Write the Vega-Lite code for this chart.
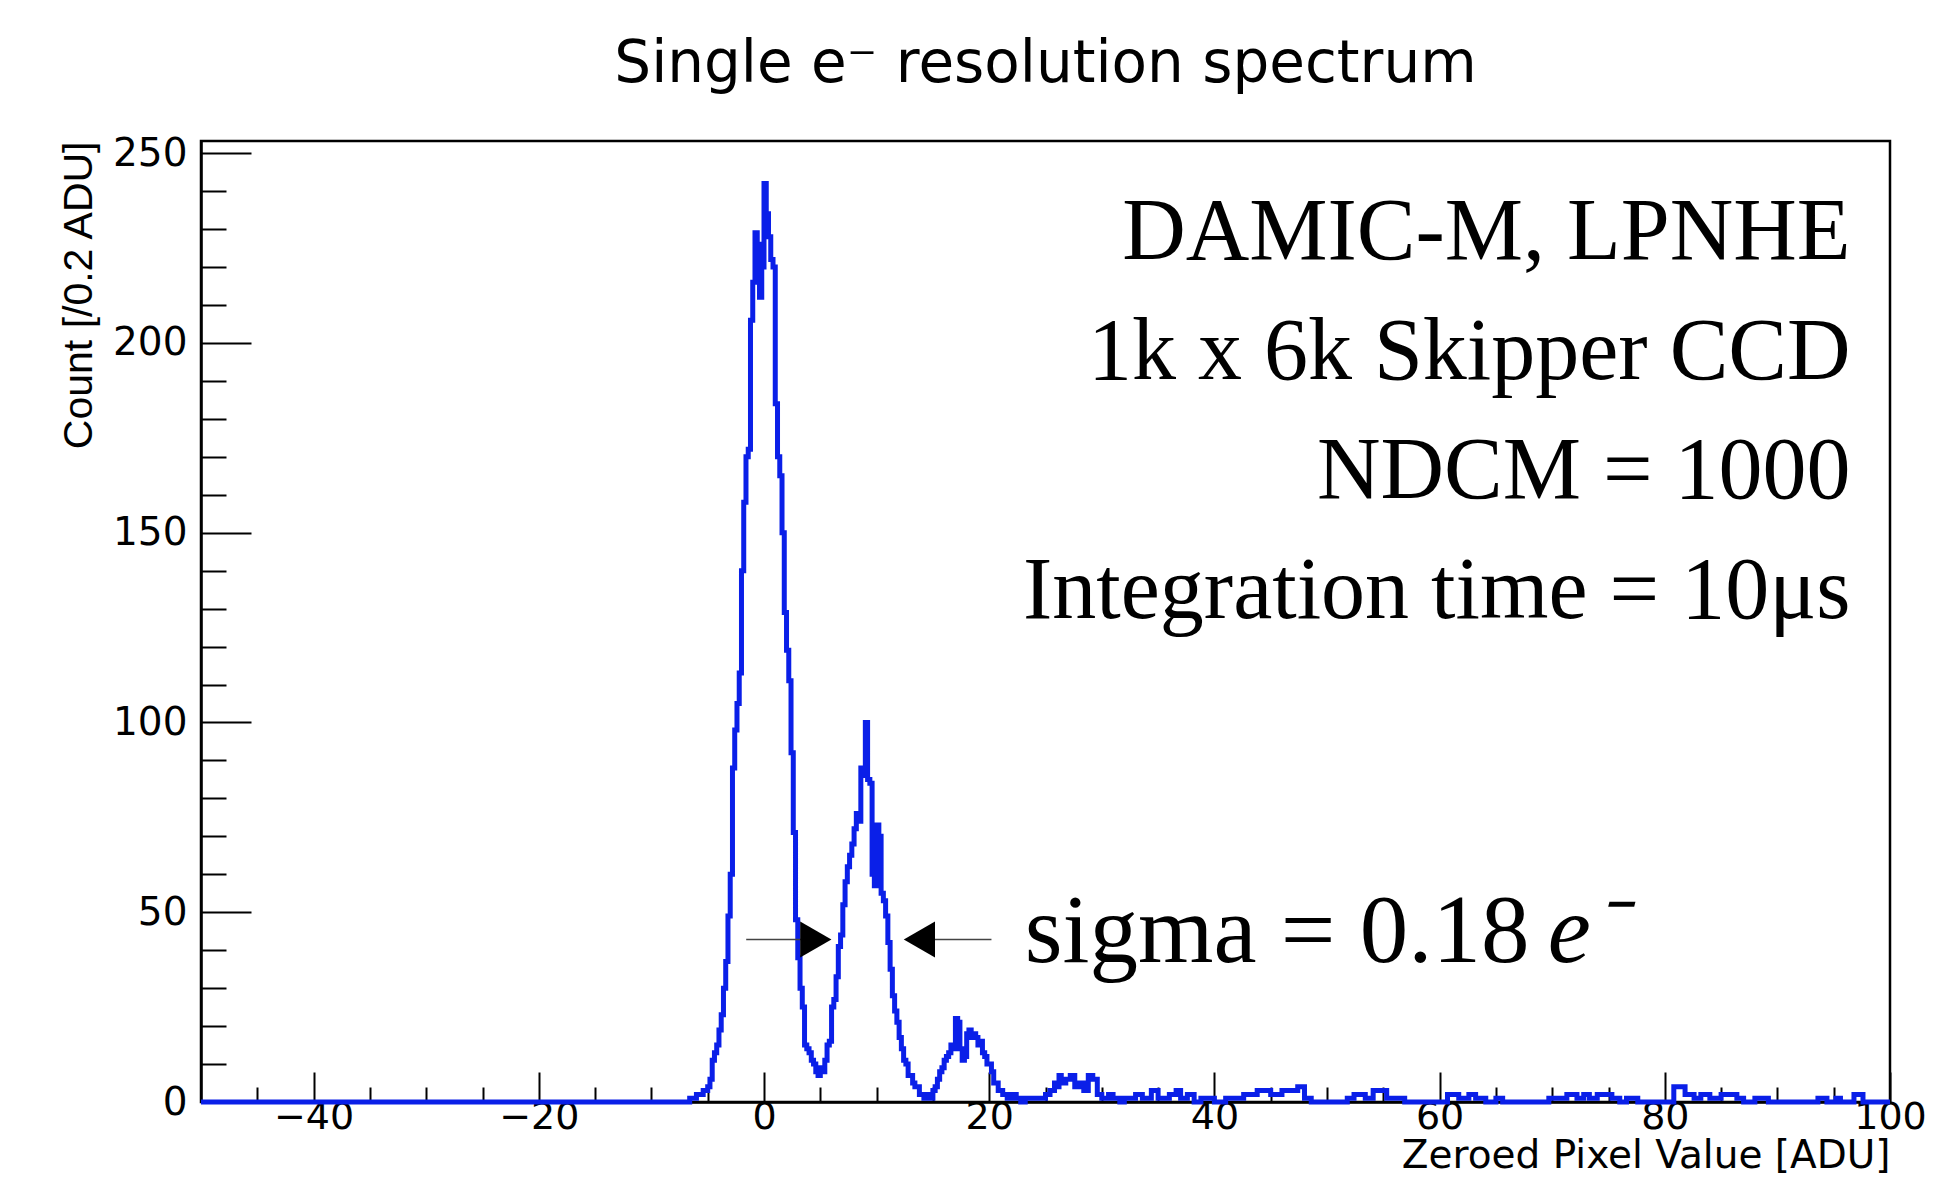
{
  "$schema": "https://vega.github.io/schema/vega-lite/v6.json",
  "width": 1689,
  "height": 961,
  "autosize": {"type": "none"},
  "padding": {"left": 201, "top": 141, "right": 69, "bottom": 86},
  "background": "white",
  "title": {"text": "Single e⁻ resolution spectrum", "font": "DejaVu Sans", "fontSize": 58, "fontWeight": "normal", "color": "#000", "anchor": "middle", "baseline": "alphabetic", "offset": -6},
  "datasets": {
    "hist": [
      {"x": -50, "count": 0}, {"x": -6.6, "count": 1}, {"x": -6.0, "count": 2}, {"x": -5.4, "count": 3}, {"x": -5.0, "count": 4},
      {"x": -4.8, "count": 6}, {"x": -4.6, "count": 11}, {"x": -4.4, "count": 13}, {"x": -4.2, "count": 15}, {"x": -4.0, "count": 19},
      {"x": -3.8, "count": 23}, {"x": -3.6, "count": 30}, {"x": -3.4, "count": 37}, {"x": -3.2, "count": 49}, {"x": -3.0, "count": 60},
      {"x": -2.8, "count": 88}, {"x": -2.6, "count": 98}, {"x": -2.4, "count": 105}, {"x": -2.2, "count": 113}, {"x": -2.0, "count": 140},
      {"x": -1.8, "count": 158}, {"x": -1.6, "count": 170}, {"x": -1.4, "count": 172}, {"x": -1.2, "count": 206}, {"x": -1.0, "count": 216},
      {"x": -0.8, "count": 229}, {"x": -0.6, "count": 226}, {"x": -0.4, "count": 212}, {"x": -0.2, "count": 220}, {"x": 0.0, "count": 242},
      {"x": 0.2, "count": 234}, {"x": 0.4, "count": 228}, {"x": 0.6, "count": 222}, {"x": 0.8, "count": 220}, {"x": 1.0, "count": 184},
      {"x": 1.2, "count": 170}, {"x": 1.4, "count": 165}, {"x": 1.6, "count": 150}, {"x": 1.8, "count": 129}, {"x": 2.0, "count": 119},
      {"x": 2.2, "count": 111}, {"x": 2.4, "count": 92}, {"x": 2.6, "count": 71}, {"x": 2.8, "count": 48}, {"x": 3.0, "count": 38},
      {"x": 3.2, "count": 30}, {"x": 3.4, "count": 25}, {"x": 3.6, "count": 15}, {"x": 3.8, "count": 14}, {"x": 4.0, "count": 13},
      {"x": 4.2, "count": 11}, {"x": 4.4, "count": 10}, {"x": 4.6, "count": 8}, {"x": 4.8, "count": 7}, {"x": 5.0, "count": 9},
      {"x": 5.2, "count": 8}, {"x": 5.4, "count": 11}, {"x": 5.6, "count": 15}, {"x": 5.8, "count": 16}, {"x": 6.0, "count": 25},
      {"x": 6.2, "count": 27}, {"x": 6.4, "count": 33}, {"x": 6.6, "count": 41}, {"x": 6.8, "count": 44}, {"x": 7.0, "count": 52},
      {"x": 7.2, "count": 58}, {"x": 7.4, "count": 62}, {"x": 7.6, "count": 65}, {"x": 7.8, "count": 68}, {"x": 8.0, "count": 72},
      {"x": 8.2, "count": 76}, {"x": 8.4, "count": 74}, {"x": 8.6, "count": 88}, {"x": 8.8, "count": 86}, {"x": 9.0, "count": 100},
      {"x": 9.2, "count": 85}, {"x": 9.4, "count": 84}, {"x": 9.6, "count": 60}, {"x": 9.8, "count": 57}, {"x": 10.0, "count": 73},
      {"x": 10.2, "count": 70}, {"x": 10.4, "count": 55}, {"x": 10.6, "count": 53}, {"x": 10.8, "count": 49}, {"x": 11.0, "count": 42},
      {"x": 11.2, "count": 35}, {"x": 11.4, "count": 28}, {"x": 11.6, "count": 24}, {"x": 11.8, "count": 21}, {"x": 12.0, "count": 17},
      {"x": 12.2, "count": 14}, {"x": 12.4, "count": 11}, {"x": 12.6, "count": 10}, {"x": 12.8, "count": 7}, {"x": 13.2, "count": 5},
      {"x": 13.4, "count": 4}, {"x": 13.8, "count": 2}, {"x": 14.2, "count": 1}, {"x": 14.6, "count": 2}, {"x": 14.8, "count": 1},
      {"x": 15.0, "count": 3}, {"x": 15.2, "count": 4}, {"x": 15.4, "count": 6}, {"x": 15.6, "count": 8}, {"x": 15.8, "count": 9},
      {"x": 16.0, "count": 11}, {"x": 16.2, "count": 12}, {"x": 16.4, "count": 13}, {"x": 16.6, "count": 15}, {"x": 16.8, "count": 14},
      {"x": 17.0, "count": 22}, {"x": 17.2, "count": 21}, {"x": 17.4, "count": 14}, {"x": 17.6, "count": 11}, {"x": 17.8, "count": 12},
      {"x": 18.0, "count": 18}, {"x": 18.2, "count": 19}, {"x": 18.4, "count": 17}, {"x": 18.6, "count": 18}, {"x": 18.8, "count": 17},
      {"x": 19.0, "count": 15}, {"x": 19.2, "count": 16}, {"x": 19.4, "count": 13}, {"x": 19.6, "count": 12}, {"x": 19.8, "count": 10},
      {"x": 20.2, "count": 8}, {"x": 20.4, "count": 5}, {"x": 20.8, "count": 3}, {"x": 21.2, "count": 2}, {"x": 21.6, "count": 1},
      {"x": 22.0, "count": 2}, {"x": 22.4, "count": 1}, {"x": 22.8, "count": 0}, {"x": 23.2, "count": 1}, {"x": 25.0, "count": 2},
      {"x": 25.4, "count": 3}, {"x": 25.8, "count": 5}, {"x": 26.0, "count": 4}, {"x": 26.2, "count": 7}, {"x": 26.4, "count": 5},
      {"x": 26.8, "count": 6}, {"x": 27.2, "count": 7}, {"x": 27.6, "count": 4}, {"x": 28.0, "count": 5}, {"x": 28.4, "count": 3},
      {"x": 28.8, "count": 7}, {"x": 29.2, "count": 6}, {"x": 29.6, "count": 2}, {"x": 30.0, "count": 1}, {"x": 30.6, "count": 2},
      {"x": 31.0, "count": 1}, {"x": 31.6, "count": 0}, {"x": 32.0, "count": 1}, {"x": 33.0, "count": 2}, {"x": 33.6, "count": 1},
      {"x": 34.4, "count": 3}, {"x": 35.0, "count": 1}, {"x": 36.0, "count": 2}, {"x": 36.6, "count": 3}, {"x": 37.0, "count": 1},
      {"x": 37.6, "count": 2}, {"x": 38.2, "count": 0}, {"x": 38.8, "count": 1}, {"x": 40.0, "count": 0}, {"x": 41.0, "count": 1},
      {"x": 42.6, "count": 2}, {"x": 43.8, "count": 3}, {"x": 45.0, "count": 2}, {"x": 46.0, "count": 3}, {"x": 47.4, "count": 4},
      {"x": 48.0, "count": 1}, {"x": 48.6, "count": 0}, {"x": 51.8, "count": 1}, {"x": 52.4, "count": 2}, {"x": 53.4, "count": 1},
      {"x": 54.1, "count": 3}, {"x": 55.3, "count": 1}, {"x": 56.9, "count": 0}, {"x": 60.7, "count": 2}, {"x": 61.7, "count": 1},
      {"x": 62.6, "count": 2}, {"x": 63.2, "count": 1}, {"x": 64.1, "count": 0}, {"x": 65.0, "count": 1}, {"x": 65.6, "count": 0},
      {"x": 69.7, "count": 1}, {"x": 71.3, "count": 2}, {"x": 72.2, "count": 1}, {"x": 72.8, "count": 2}, {"x": 73.3, "count": 1},
      {"x": 74.0, "count": 2}, {"x": 75.3, "count": 1}, {"x": 76.0, "count": 0}, {"x": 76.6, "count": 1}, {"x": 77.6, "count": 0},
      {"x": 80.8, "count": 4}, {"x": 81.8, "count": 2}, {"x": 82.6, "count": 1}, {"x": 83.2, "count": 2}, {"x": 84.0, "count": 1},
      {"x": 85.0, "count": 2}, {"x": 86.4, "count": 1}, {"x": 87.0, "count": 0}, {"x": 88.0, "count": 1}, {"x": 89.2, "count": 0},
      {"x": 93.6, "count": 1}, {"x": 94.4, "count": 0}, {"x": 95.2, "count": 1}, {"x": 95.6, "count": 0}, {"x": 96.8, "count": 2},
      {"x": 97.6, "count": 0}, {"x": 100, "count": 0}
    ],
    "arrows": [
      {"from": -1.58, "to": 4.6, "tip": 4.6, "level": 42.8, "dir": "right"},
      {"from": 13.8, "to": 20.2, "tip": 13.8, "level": 42.8, "dir": "left"}
    ]
  },
  "layer": [
    {
      "data": {"name": "hist"},
      "mark": {"type": "line", "interpolate": "step-after", "color": "#0a1fe8", "strokeWidth": 5},
      "encoding": {
        "x": {"field": "x", "type": "quantitative", "scale": {"domain": [-50, 100], "nice": false, "zero": false},
          "axis": {"orient": "bottom", "values": [-40, -20, 0, 20, 40, 60, 80, 100], "format": "d", "tickSize": -30, "labelPadding": 26,
            "labelFont": "DejaVu Sans", "labelFontSize": 38, "title": "Zeroed Pixel Value [ADU]", "titleFont": "DejaVu Sans",
            "titleFontSize": 39, "titleFontWeight": "normal", "titleAnchor": "end", "titlePadding": 0}},
        "y": {"field": "count", "type": "quantitative", "scale": {"domain": [0, 253.2], "nice": false},
          "axis": {"orient": "left", "values": [0, 50, 100, 150, 200, 250], "tickSize": -50, "labelPadding": 64,
            "labelFont": "DejaVu Sans", "labelFontSize": 39, "title": "Count [/0.2 ADU]", "titleFont": "Liberation Sans",
            "titleFontSize": 41, "titleFontWeight": "normal", "titleAnchor": "end", "titlePadding": 12}}
      }
    },
    {
      "data": {"name": "arrows"},
      "mark": {"type": "rule", "color": "#444444", "strokeWidth": 1.5},
      "encoding": {
        "x": {"field": "from", "type": "quantitative",
          "axis": {"orient": "bottom", "values": [-45, -35, -30, -25, -15, -10, -5, 5, 10, 15, 25, 30, 35, 45, 50, 55, 65, 70, 75, 85, 90, 95],
            "tickSize": -15, "labels": false, "domain": false, "title": null}},
        "x2": {"field": "to"},
        "y": {"field": "level", "type": "quantitative",
          "axis": {"orient": "left", "values": [10, 20, 30, 40, 60, 70, 80, 90, 110, 120, 130, 140, 160, 170, 180, 190, 210, 220, 230, 240],
            "tickSize": -25, "labels": false, "domain": false, "title": null}}
      }
    },
    {
      "data": {"name": "arrows"},
      "mark": {"type": "point", "filled": true, "color": "#000000", "size": 1300, "opacity": 1},
      "encoding": {
        "x": {"field": "tip", "type": "quantitative", "axis": null},
        "y": {"field": "level", "type": "quantitative", "axis": null},
        "shape": {"field": "dir", "type": "nominal", "scale": {"domain": ["right", "left"], "range": ["triangle-right", "triangle-left"]}, "legend": null}
      }
    },
    {
      "data": {"values": [{}]},
      "mark": {"type": "text", "align": "right", "baseline": "alphabetic", "font": "Liberation Serif", "fontSize": 88, "lineHeight": 119.5, "color": "#000",
        "text": ["DAMIC-M, LPNHE", "1k x 6k Skipper CCD", "NDCM = 1000", "Integration time = 10μs"]},
      "encoding": {
        "x": {"datum": 96.5, "type": "quantitative", "axis": null},
        "y": {"datum": 222.1, "type": "quantitative", "axis": null}
      }
    },
    {
      "data": {"values": [{}]},
      "mark": {"type": "text", "align": "left", "baseline": "alphabetic", "font": "Liberation Serif", "fontSize": 97, "color": "#000", "text": "sigma = 0.18"},
      "encoding": {
        "x": {"datum": 23.16, "type": "quantitative", "axis": null},
        "y": {"datum": 36.9, "type": "quantitative", "axis": null}
      }
    },
    {
      "data": {"values": [{}]},
      "mark": {"type": "text", "align": "left", "baseline": "alphabetic", "font": "Liberation Serif", "fontSize": 97, "fontStyle": "italic", "color": "#000", "text": "e⁻"},
      "encoding": {
        "x": {"datum": 69.6, "type": "quantitative", "axis": null},
        "y": {"datum": 36.9, "type": "quantitative", "axis": null}
      }
    }
  ],
  "resolve": {"axis": {"x": "independent", "y": "independent"}},
  "config": {
    "view": {"stroke": "#000000", "strokeWidth": 2.5},
    "axis": {"domainColor": "#000000", "domainWidth": 2.5, "tickColor": "#000000", "tickWidth": 2, "labelColor": "#000000", "titleColor": "#000000",
      "grid": false, "labelFlush": false, "labelOverlap": false}
  }
}
